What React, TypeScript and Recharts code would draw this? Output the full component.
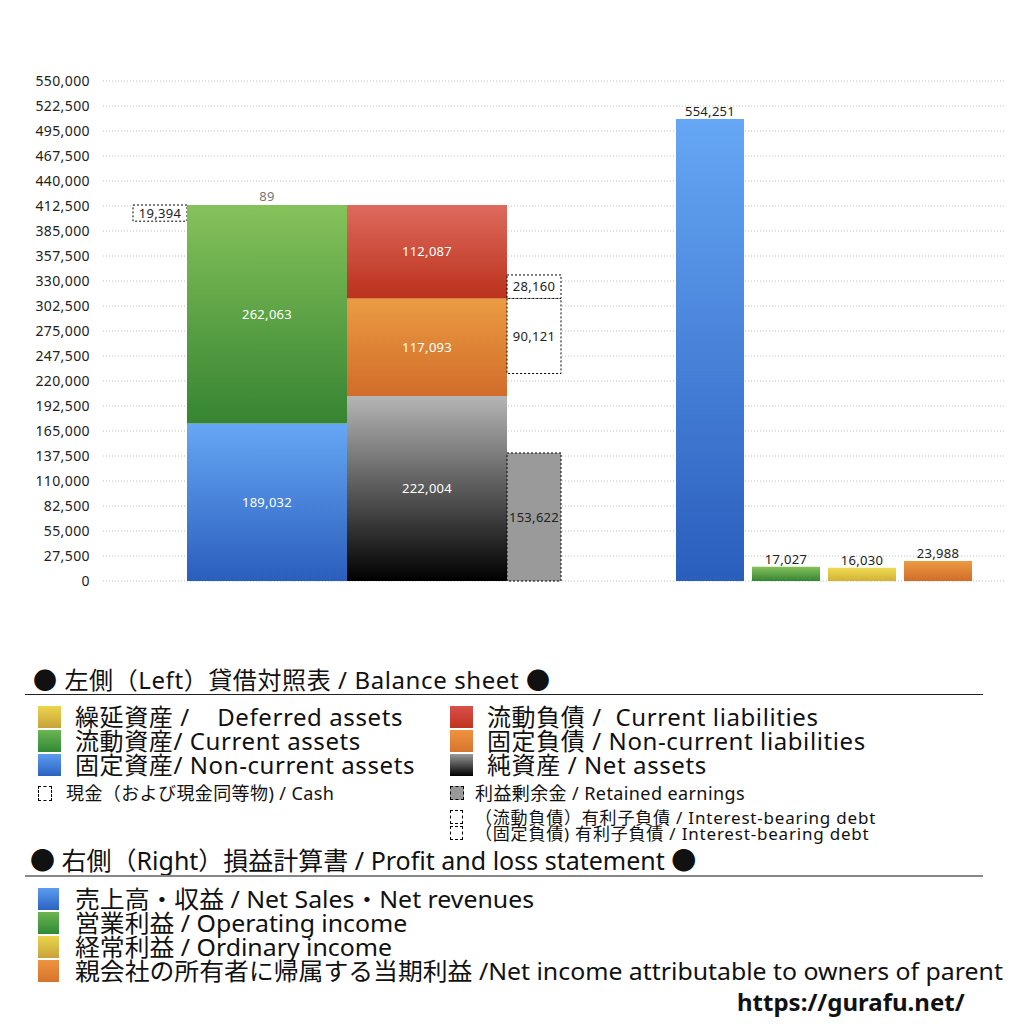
import { BarChart, Bar, XAxis, YAxis, CartesianGrid, LabelList, Cell } from 'recharts';

// Y axis: the printed labels step by 27,500 while the drawing scale steps by 30,000
const yTickLabels = [
  '0', '27,500', '55,000', '82,500', '110,000', '137,500', '165,000', '192,500', '220,000',
  '247,500', '275,000', '302,500', '330,000', '357,500', '385,000', '412,500', '440,000',
  '467,500', '495,000', '522,500', '550,000',
];
const yStep = 30000;

// balance sheet (left), bottom to top
const assetNames = ['固定資産', '流動資産', '繰延資産'];
const assetValues = [189032, 262063, 89];
const liabilityNames = ['純資産', '固定負債', '流動負債'];
const liabilityValues = [222004, 117093, 112087];
const cashValues = [19394];
const debtNames = ['（固定負債）有利子負債', '（流動負債）有利子負債'];
const debtValues = [90121, 28160];
const retainedValues = [153622];

// profit and loss (right)
const plNames = ['売上高・収益', '営業利益', '経常利益', '当期利益'];
const plValues = [554251, 17027, 16030, 23988];

const FONT = '"Noto Sans", "Noto Sans CJK JP", sans-serif';
const fmt = (v: any) => Number(v).toLocaleString('en-US');

const totalAssets = assetValues.reduce((s, v) => s + v, 0);
const bsData = [
  {
    name: 'BS',
    cashSpacer: totalAssets - cashValues[0],
    cash: cashValues[0],
    a0: assetValues[0],
    a1: assetValues[1],
    a2: assetValues[2],
    l0: liabilityValues[0],
    l1: liabilityValues[1],
    l2: liabilityValues[2],
    retained: retainedValues[0],
    debtSpacer: liabilityValues[0] + liabilityValues[1] - debtValues[0] - retainedValues[0],
    d0: debtValues[0],
    d1: debtValues[1],
  },
];
const plData = plNames.map((name, i) => ({ name, value: plValues[i] }));
const plFills = ['url(#gBlue)', 'url(#gGreen)', 'url(#gYellow)', 'url(#gOrange)'];

const yTicks = yTickLabels.map((_, i) => i * yStep);
const yMax = yTicks[yTicks.length - 1];

const grad = (id: string, top: string, bottom: string) => (
  <linearGradient id={id} x1="0" y1="0" x2="0" y2="1">
    <stop offset="0%" stopColor={top} />
    <stop offset="100%" stopColor={bottom} />
  </linearGradient>
);

const labelFont = { fontSize: 13, fontFamily: FONT, style: { letterSpacing: '0.3px' } };
const whiteLabel = { fill: '#fff', ...labelFont };
const darkLabel = { fill: '#222', ...labelFont };
const dotted = { stroke: '#000', strokeWidth: 1, strokeDasharray: '2 2' };

function Txt({ x, y, size, lh, children, style }: any) {
  const h = lh ?? size;
  return (
    <div
      style={{
        position: 'absolute',
        left: x,
        top: y - h / 2,
        fontSize: size,
        lineHeight: `${h}px`,
        whiteSpace: 'pre',
        ...style,
      }}
    >
      {children}
    </div>
  );
}

function Swatch({ x, y, w, h, bg, dashed }: any) {
  return (
    <div
      style={{
        position: 'absolute',
        left: x,
        top: y - h / 2,
        width: w,
        height: h,
        boxSizing: 'border-box',
        background: bg,
        border: dashed ? '1px dashed #000' : 'none',
      }}
    />
  );
}

const lg = (top: string, bottom: string) => `linear-gradient(${top}, ${bottom})`;
const wide = { letterSpacing: '0.6px' };
const wideSmall = { letterSpacing: '0.4px' };

const plLegend = [
  '売上高・収益 / Net Sales・Net revenues',
  '営業利益 / Operating income',
  '経常利益 / Ordinary income',
  '親会社の所有者に帰属する当期利益 /Net income attributable to owners of parent',
];
const plSwatches = [
  lg('#5d9cf0', '#2b62c2'),
  lg('#6cb552', '#2f8a35'),
  lg('#ecd54c', '#c8a23a'),
  lg('#ee9340', '#d6742c'),
];

export default function App() {
  return (
    <div
      style={{
        position: 'absolute',
        left: 0,
        top: 0,
        width: 1024,
        height: 1024,
        background: '#fff',
        fontFamily: FONT,
        color: '#111',
        overflow: 'hidden',
      }}
    >
      <div style={{ position: 'absolute', left: 0, top: 0 }}>
        <BarChart
          width={1024}
          height={620}
          data={bsData}
          margin={{ top: 81, right: 19, bottom: 39, left: 0 }}
          barGap={0}
        >
          <defs>
            {grad('gBlue', '#66a7f5', '#2a5ebd')}
            {grad('gGreen', '#85c25a', '#368432')}
            {grad('gYellow', '#eedc52', '#d3b036')}
            {grad('gRed', '#de6a5d', '#bb311c')}
            {grad('gOrange', '#eb9b42', '#d16c2a')}
            {grad('gBlack', '#b5b5b5', '#000000')}
          </defs>
          <CartesianGrid vertical={false} stroke="#bdbdbd" strokeDasharray="1 2" />
          <XAxis dataKey="name" hide padding={{ left: 0, right: 414 }} />
          <YAxis
            width={103}
            domain={[0, yMax]}
            ticks={yTicks}
            interval={0}
            axisLine={false}
            tickLine={false}
            tickMargin={7}
            tickFormatter={(v: number) => yTickLabels[Math.round(v / yStep)]}
            tick={{ fill: '#222', fontSize: 14, fontFamily: FONT, style: { letterSpacing: '0.4px' } }}
          />

          {/* cash */}
          <Bar dataKey="cashSpacer" stackId="cash" barSize={54} fill="transparent" isAnimationActive={false} />
          <Bar dataKey="cash" stackId="cash" barSize={54} fill="#fff" {...dotted} isAnimationActive={false}>
            <LabelList dataKey="cash" position="center" formatter={fmt} {...darkLabel} />
          </Bar>

          {/* assets */}
          <Bar dataKey="a0" name={assetNames[0]} stackId="assets" barSize={160} fill="url(#gBlue)" isAnimationActive={false}>
            <LabelList dataKey="a0" position="center" formatter={fmt} {...whiteLabel} />
          </Bar>
          <Bar dataKey="a1" name={assetNames[1]} stackId="assets" barSize={160} fill="url(#gGreen)" isAnimationActive={false}>
            <LabelList dataKey="a1" position="center" formatter={fmt} {...whiteLabel} />
          </Bar>
          <Bar dataKey="a2" name={assetNames[2]} stackId="assets" barSize={160} fill="url(#gYellow)" isAnimationActive={false}>
            <LabelList dataKey="a2" position="top" offset={4} formatter={fmt} {...labelFont} fill="#777" />
          </Bar>

          {/* liabilities and net assets */}
          <Bar dataKey="l0" name={liabilityNames[0]} stackId="liab" barSize={160} fill="url(#gBlack)" isAnimationActive={false}>
            <LabelList dataKey="l0" position="center" formatter={fmt} {...whiteLabel} />
          </Bar>
          <Bar dataKey="l1" name={liabilityNames[1]} stackId="liab" barSize={160} fill="url(#gOrange)" isAnimationActive={false}>
            <LabelList dataKey="l1" position="center" formatter={fmt} {...whiteLabel} />
          </Bar>
          <Bar dataKey="l2" name={liabilityNames[2]} stackId="liab" barSize={160} fill="url(#gRed)" isAnimationActive={false}>
            <LabelList dataKey="l2" position="center" formatter={fmt} {...whiteLabel} />
          </Bar>

          {/* retained earnings and interest-bearing debt */}
          <Bar dataKey="retained" stackId="debt" barSize={54} fill="#9a9a9a" {...dotted} isAnimationActive={false}>
            <LabelList dataKey="retained" position="center" formatter={fmt} {...darkLabel} />
          </Bar>
          <Bar dataKey="debtSpacer" stackId="debt" barSize={54} fill="transparent" isAnimationActive={false} />
          <Bar dataKey="d0" name={debtNames[0]} stackId="debt" barSize={54} fill="#fff" {...dotted} isAnimationActive={false}>
            <LabelList dataKey="d0" position="center" formatter={fmt} {...darkLabel} />
          </Bar>
          <Bar dataKey="d1" name={debtNames[1]} stackId="debt" barSize={54} fill="#fff" {...dotted} isAnimationActive={false}>
            <LabelList dataKey="d1" position="center" formatter={fmt} {...darkLabel} />
          </Bar>
        </BarChart>
      </div>

      <div style={{ position: 'absolute', left: 672, top: 0 }}>
        <BarChart width={304} height={620} data={plData} margin={{ top: 81, right: 0, bottom: 39, left: 0 }}>
          <XAxis dataKey="name" hide />
          <YAxis hide domain={[0, yMax]} />
          <Bar dataKey="value" barSize={68} isAnimationActive={false}>
            {plData.map((d, i) => (
              <Cell key={d.name} fill={plFills[i]} />
            ))}
            <LabelList dataKey="value" position="top" offset={3} formatter={fmt} {...darkLabel} />
          </Bar>
        </BarChart>
      </div>

      {/* legend: balance sheet */}
      <Txt x={33} y={680} size={24} style={wide}>● 左側（Left）貸借対照表 / Balance sheet ●</Txt>
      <div style={{ position: 'absolute', left: 25, top: 694, width: 958, height: 1, background: '#222' }} />

      <Swatch x={38} y={717} w={23} h={22} bg={lg('#ecd54c', '#c8a23a')} />
      <Txt x={75} y={717} size={24} lh={22} style={wide}>{'繰延資産 /    Deferred assets'}</Txt>
      <Swatch x={38} y={741} w={23} h={22} bg={lg('#6cb552', '#2f8a35')} />
      <Txt x={75} y={741} size={24} lh={22} style={wide}>流動資産/ Current assets</Txt>
      <Swatch x={38} y={765} w={23} h={22} bg={lg('#5d9cf0', '#2b62c2')} />
      <Txt x={75} y={765} size={24} lh={22} style={wide}>固定資産/ Non-current assets</Txt>
      <Swatch x={38} y={793} w={14} h={15} bg="#fff" dashed />
      <Txt x={66} y={793} size={18} style={wideSmall}>現金（および現金同等物) / Cash</Txt>

      <Swatch x={450} y={717} w={23} h={22} bg={lg('#d9504a', '#c0331f')} />
      <Txt x={487} y={717} size={24} lh={22} style={wide}>{'流動負債 /  Current liabilities'}</Txt>
      <Swatch x={450} y={741} w={23} h={22} bg={lg('#ee9340', '#d6742c')} />
      <Txt x={487} y={741} size={24} lh={22} style={wide}>固定負債 / Non-current liabilities</Txt>
      <Swatch x={450} y={765} w={23} h={22} bg={lg('#9a9a9a', '#000')} />
      <Txt x={487} y={765} size={24} lh={22} style={wide}>純資産 / Net assets</Txt>
      <Swatch x={450} y={793} w={14} h={14} bg="#999" dashed />
      <Txt x={475} y={793} size={18} style={wideSmall}>利益剰余金 / Retained earnings</Txt>
      <Swatch x={450} y={817} w={13} h={14} bg="#fff" dashed />
      <Txt x={475} y={817} size={17} lh={15} style={{ letterSpacing: '0.8px' }}>
        （流動負債）有利子負債 / Interest-bearing debt
      </Txt>
      <Swatch x={450} y={833} w={13} h={14} bg="#fff" dashed />
      <Txt x={475} y={833} size={17} lh={15} style={{ letterSpacing: '0.8px' }}>
        （固定負債) 有利子負債 / Interest-bearing debt
      </Txt>

      {/* legend: profit and loss */}
      <Txt x={30} y={860} size={25}>● 右側（Right）損益計算書 / Profit and loss statement ●</Txt>
      <div style={{ position: 'absolute', left: 25, top: 875, width: 958, height: 2, background: '#888' }} />

      {plLegend.map((t, i) => (
        <div key={t}>
          <Swatch x={38} y={899 + i * 24} w={21} h={22} bg={plSwatches[i]} />
          <Txt
            x={75}
            y={899 + i * 24}
            size={24}
            lh={22}
            style={{ transform: 'scaleX(1.035)', transformOrigin: 'left center' }}
          >
            {t}
          </Txt>
        </div>
      ))}

      <Txt x={737} y={1002} size={24} style={{ fontWeight: 700 }}>
        https://gurafu.net/
      </Txt>
    </div>
  );
}
